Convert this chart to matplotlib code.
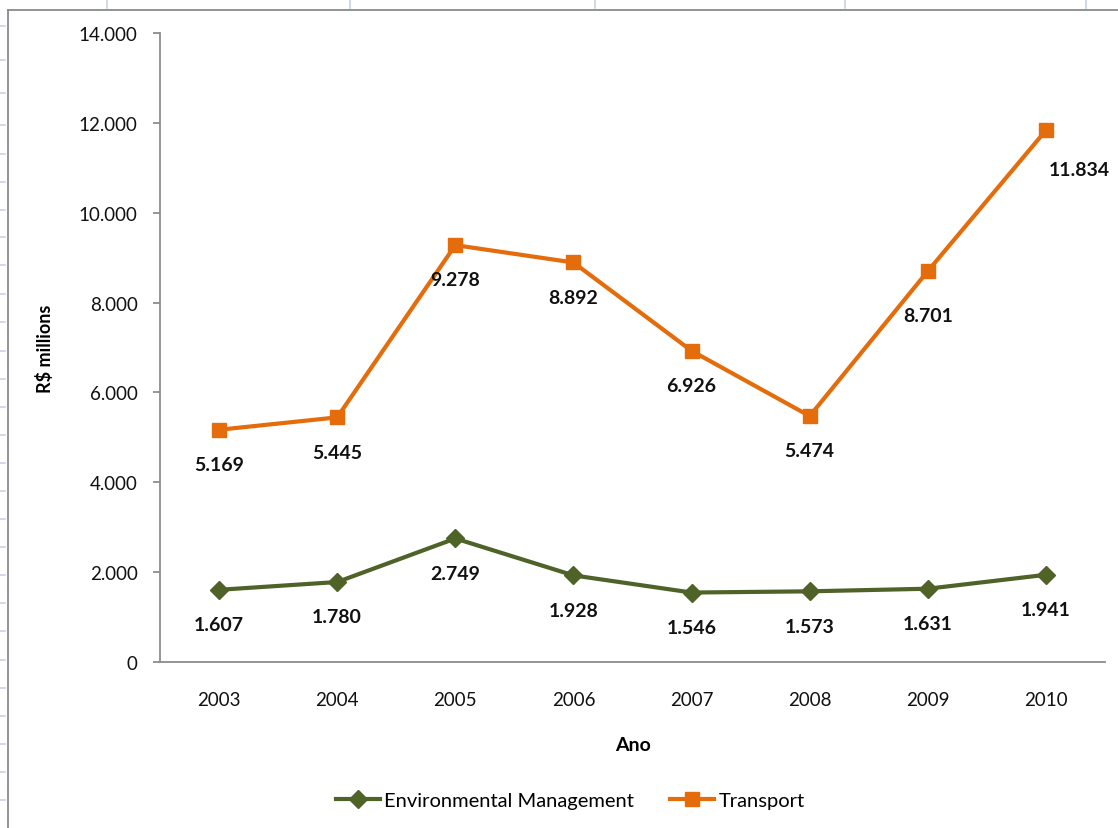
import matplotlib
matplotlib.use("Agg")
import matplotlib.pyplot as plt
from matplotlib.lines import Line2D
from matplotlib.ticker import FuncFormatter

years = ["2003", "2004", "2005", "2006", "2007", "2008", "2009", "2010"]
environmental = [1607, 1780, 2749, 1928, 1546, 1573, 1631, 1941]
transport = [5169, 5445, 9278, 8892, 6926, 5474, 8701, 11834]

# label offsets (points) relative to each marker
env_offsets = [(0, -25)] * 8
trn_offsets = [(0, -25)] * 6 + [(0, -32), (24, -28)]

green = "#4F6228"
orange = "#E46C0A"
font = "Lato"

plt.rcParams["font.family"] = [font, "DejaVu Sans"]

W, H = 1118, 829
fig = plt.figure(figsize=(W / 100, H / 100), dpi=100)

# spreadsheet background: column/row marks and chart frame
for x in [107, 350, 595, 845, 1086]:
    fig.add_artist(Line2D([x / W, x / W], [1, 1 - 9 / H], color="#c9d3e6", lw=1.2))
rows = [27, 61, 94, 126, 155, 183, 211, 238, 266, 295, 323, 352, 380, 408, 436,
        464, 492, 520, 548, 576, 604, 632, 661, 689, 717, 745, 773, 801]
for y in rows:
    fig.add_artist(Line2D([0, 5 / W], [1 - y / H, 1 - y / H], color="#c9d3e6", lw=1.2))
fig.add_artist(Line2D([8 / W, 8 / W], [0, 1 - 11 / H], color="#8a8a8a", lw=1.3))
fig.add_artist(Line2D([8 / W, 1], [1 - 11 / H, 1 - 11 / H], color="#8a8a8a", lw=1.3))

ax = fig.add_axes([160 / W, 1 - 663 / H, (1105 - 160) / W, (663 - 34) / H])
xs = list(range(len(years)))

ax.plot(xs, environmental, color=green, lw=3, marker="D", ms=9.5,
        label="Environmental Management", zorder=3)
ax.plot(xs, transport, color=orange, lw=3, marker="s", ms=10.5,
        label="Transport", zorder=3)

def fmt(v):
    return f"{int(v):,}".replace(",", ".")

for x, v, off in zip(xs, environmental, env_offsets):
    ax.annotate(fmt(v), (x, v), xytext=off, textcoords="offset points",
                ha="center", va="center", fontsize=14, fontweight="bold",
                color="#111111")
for x, v, off in zip(xs, transport, trn_offsets):
    ax.annotate(fmt(v), (x, v), xytext=off, textcoords="offset points",
                ha="center", va="center", fontsize=14, fontweight="bold",
                color="#111111")

ax.set_xlim(-0.5, len(years) - 0.5)
ax.set_ylim(0, 14000)
ax.set_yticks(range(0, 14001, 2000))
ax.yaxis.set_major_formatter(FuncFormatter(lambda v, p: fmt(v)))
ax.set_xticks(xs)
ax.set_xticklabels(years)

for s in ["top", "right"]:
    ax.spines[s].set_visible(False)
for s in ["left", "bottom"]:
    ax.spines[s].set_color("#8c8c8c")
    ax.spines[s].set_linewidth(1.3)

ax.tick_params(axis="y", direction="out", length=5, width=1.3, color="#8c8c8c",
               pad=11, labelsize=13.5, labelcolor="#111111")
ax.tick_params(axis="x", length=0, pad=21, labelsize=13.5, labelcolor="#111111")

ax.set_ylabel("R$ millions", fontsize=13, fontweight="bold", labelpad=18)
ax.set_xlabel("Ano", fontsize=14, fontweight="bold", labelpad=20)

ax.legend(loc="center", bbox_to_anchor=(570 / W, 1 - 801 / H),
          bbox_transform=fig.transFigure, ncol=2, frameon=False,
          fontsize=14.5, handlelength=2.2, handletextpad=0.2, columnspacing=1.8)

fig.savefig("out.png", dpi=100, facecolor="white")
